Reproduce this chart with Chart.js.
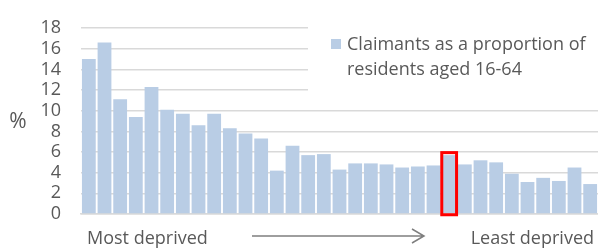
<!DOCTYPE html>
<html>
<head>
<meta charset="utf-8">
<script src="https://cdn.jsdelivr.net/npm/chart.js@4.4.0/dist/chart.umd.min.js"></script>
<style>
  html, body { margin: 0; padding: 0; background: #fff; }
</style>
</head>
<body>
<canvas id="mycanvas" width="598" height="248"></canvas>
<script>
// deprivation rank, most deprived first
var ranks = ["1","2","3","4","5","6","7","8","9","10","11","12","13","14","15","16","17",
             "18","19","20","21","22","23","24","25","26","27","28","29","30","31","32","33"];
var claimants = [15.0, 16.6, 11.1, 9.4, 12.3, 10.1, 9.7, 8.6, 9.7, 8.3, 7.8, 7.3, 4.2, 6.6, 5.7, 5.8, 4.3,
                 4.9, 4.9, 4.8, 4.5, 4.6, 4.7, 5.7, 4.8, 5.2, 5.0, 3.9, 3.1, 3.5, 3.2, 4.5, 2.9];
var highlightIndex = 23;
var legendLines = ["Claimants as a proportion of", "residents aged 16-64"];
var axisEnds = ["Most deprived", "Least deprived"];
var yTitle = "%";
var yMax = 18;
var yStep = 2;

var FONT = "'Open Sans', sans-serif";
var TEXT = "#595959";
var BAR = "#b9cde5";

var extras = {
  id: "extras",
  afterDraw: function(chart) {
    var c = chart.ctx;
    var area = chart.chartArea;
    c.save();

    // red box round the highlighted bar
    var bar = chart.getDatasetMeta(0).data[highlightIndex];
    var half = bar.width / 2;
    c.strokeStyle = "#ff0000";
    c.lineWidth = 3;
    c.strokeRect(bar.x - half - 0.5, bar.y - 2.5, bar.width + 1, bar.base - bar.y + 4);

    // y title
    c.fillStyle = TEXT;
    c.font = "21px " + FONT;
    c.textAlign = "center";
    c.textBaseline = "middle";
    c.fillText(yTitle, 18, (area.top + area.bottom) / 2 + 1);

    // legend box
    c.fillStyle = "#ffffff";
    c.fillRect(308, 27, area.right - 308, 68);
    c.fillStyle = BAR;
    c.fillRect(331, 39, 10, 10);
    c.fillStyle = TEXT;
    c.font = "18px " + FONT;
    c.textAlign = "left";
    c.fillText(legendLines[0], 347, 45);
    c.fillText(legendLines[1], 347, 70);

    // axis end labels + arrow
    var y = area.bottom + 25;
    c.fillText(axisEnds[0], area.left + 6, y);
    c.textAlign = "right";
    c.fillText(axisEnds[1], area.right - 4, y);
    c.strokeStyle = "#7f7f7f";
    c.lineWidth = 1.5;
    c.beginPath();
    c.moveTo(252, area.bottom + 22);
    c.lineTo(424, area.bottom + 22);
    c.moveTo(412, area.bottom + 15);
    c.lineTo(424, area.bottom + 22);
    c.lineTo(412, area.bottom + 29);
    c.stroke();
    c.restore();
  }
};

var ctx = document.getElementById("mycanvas");
var BarGraph = new Chart(ctx, {
  type: "bar",
  data: {
    labels: ranks,
    datasets: [
      {
        label: legendLines.join(" "),
        backgroundColor: BAR,
        borderWidth: 0,
        barPercentage: 0.88,
        categoryPercentage: 1.0,
        data: claimants
      }
    ]
  },
  options: {
    responsive: false,
    animation: false,
    layout: { padding: { top: 5, right: 0, left: 0, bottom: 0 } },
    plugins: {
      legend: { display: false },
      tooltip: { enabled: false }
    },
    scales: {
      x: {
        ticks: { display: false },
        grid: { display: false, drawTicks: false },
        border: { color: "#d9d9d9", width: 1.5 },
        afterFit: function(scale) { scale.height = 34; }
      },
      y: {
        min: 0,
        max: yMax,
        ticks: {
          stepSize: yStep,
          autoSkip: false,
          padding: 20,
          color: TEXT,
          font: { family: FONT, size: 18, lineHeight: 0.9 }
        },
        grid: { color: "#d9d9d9", lineWidth: 1.5, drawTicks: false },
        border: { display: false },
        afterFit: function(scale) { scale.width = 81; }
      }
    }
  },
  plugins: [extras]
});
</script>
</body>
</html>
